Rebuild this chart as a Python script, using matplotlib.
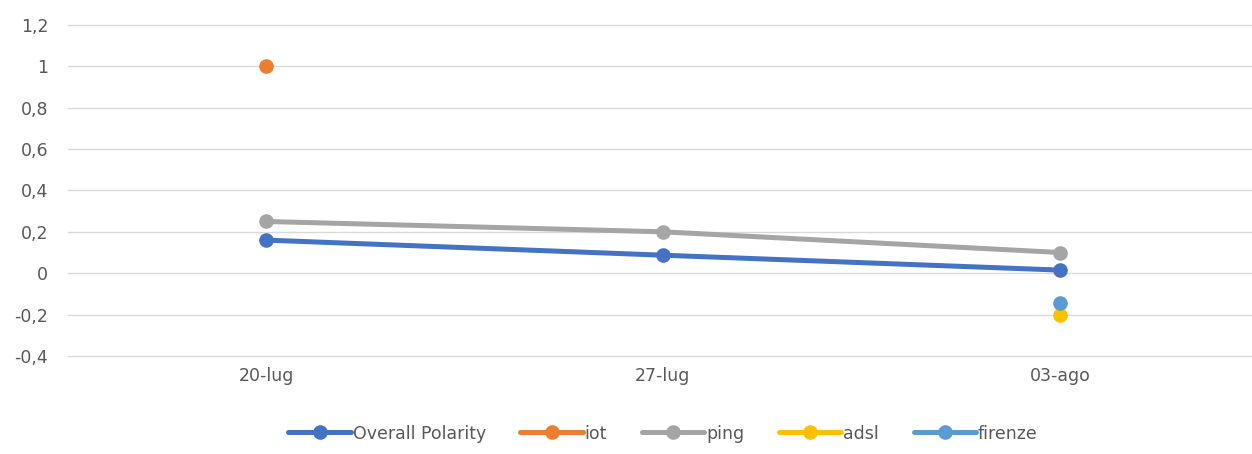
import numpy as np
import matplotlib.pyplot as plt
from matplotlib.ticker import FuncFormatter

dates = ['20-lug', '27-lug', '03-ago']
overall = [0.16, 0.087, 0.015]
iot = [1.0, np.nan, np.nan]
ping = [0.25, 0.20, 0.10]
adsl = [np.nan, np.nan, -0.20]
firenze = [np.nan, np.nan, -0.145]

series = [
    ('Overall Polarity', overall, '#4472C4'),
    ('iot', iot, '#ED7D31'),
    ('ping', ping, '#A5A5A5'),
    ('adsl', adsl, '#FFC000'),
    ('firenze', firenze, '#5B9BD5'),
]

fig = plt.figure(figsize=(12.52, 4.54), dpi=100)
ax = fig.add_axes([0.054, 0.216, 0.951, 0.729])
x = np.arange(len(dates))
for name, vals, col in series:
    ax.plot(x, vals, '-o', color=col, lw=3.6, markersize=9.5, label=name,
            solid_capstyle='round')

ax.set_xlim(-0.5, 2.5)
ax.set_ylim(-0.4, 1.2)
ax.set_yticks(np.arange(-0.4, 1.21, 0.2))
ax.yaxis.set_major_formatter(FuncFormatter(
    lambda v, p: ('%g' % round(v, 1)).replace('.', ',')))
ax.set_xticks(x)
ax.set_xticklabels(dates)
ax.grid(axis='y', color='#d9d9d9', lw=1)
for gl in ax.get_ygridlines():
    gl.set_clip_on(False)
ax.set_axisbelow(True)
for s in ax.spines.values():
    s.set_visible(False)
ax.tick_params(length=0, labelsize=12.5, colors='#595959', pad=8)
ax.tick_params(axis='y', pad=14)

leg = ax.legend(loc='upper center', bbox_to_anchor=(0.5, -0.16), ncol=5,
                frameon=False, fontsize=12.5, handlelength=3.6,
                columnspacing=2.0, handletextpad=0.1)
for t in leg.get_texts():
    t.set_color('#595959')

fig.savefig('out.png', dpi=100)
